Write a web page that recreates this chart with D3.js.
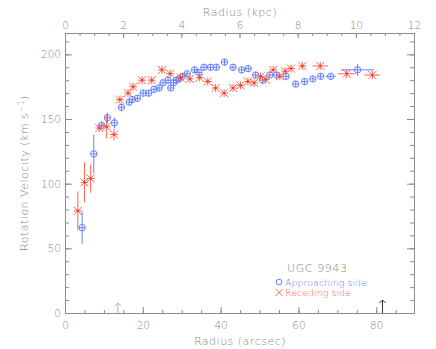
<!DOCTYPE html>
<html>
<head>
<meta charset="utf-8">
<script src="https://cdnjs.cloudflare.com/ajax/libs/d3/7.8.5/d3.min.js"></script>
<style>
  body { margin: 0; background: #fff; }
  svg text { font-family: "DejaVu Sans", sans-serif; font-weight: 200; fill: #858585; }
</style>
</head>
<body>
<svg id="chart"></svg>
<script>
// approaching side (blue circles)
var approachR = [4.4, 7.4, 9.4, 10.9, 12.7, 14.5, 16.5, 17.3, 18.6, 20.1, 21.5, 22.9, 24.2, 25.2, 26.5, 27.2, 27.9, 28.6, 29.3, 30.2,
                 31.4, 33.3, 34.4, 35.7, 37.4, 38.9, 41.0, 43.2, 45.4, 47.1, 49.0, 50.8, 52.6, 54.4, 56.8, 59.3, 61.6, 63.7, 65.7, 68.3, 75.2];
var approachV = [66, 123, 145, 151, 147, 159, 163, 165, 166, 170, 170, 173, 174, 178, 180, 174, 178, 180, 181, 183,
                 185, 188, 186, 190, 190, 190, 194, 190, 188, 189, 184, 180, 184, 184, 183, 177, 179, 181, 183, 183, 188];
var approachErrV = [12.5, 15, 3, 4, 4, 3, 2.5, 2.5, 2.5, 2.5, 2.5, 2.5, 2.5, 2.5, 2.5, 2.5, 2.5, 2.5, 2.5, 2.5,
                    2.5, 2.5, 2.5, 2.5, 2.5, 2.5, 2.5, 2.5, 2.5, 2.5, 2.5, 2.5, 2.5, 2.5, 2.5, 2.5, 2.5, 2.5, 2.5, 2.5, 4.5];
var approachErrR = [0.8, 0.8, 0.8, 0.8, 0.8, 0.8, 0.8, 0.8, 0.8, 0.8, 0.8, 0.8, 0.8, 0.8, 0.8, 0.8, 0.8, 0.8, 0.8, 0.8,
                    0.8, 0.8, 0.8, 0.8, 0.8, 0.8, 0.8, 0.8, 0.8, 0.8, 0.8, 0.8, 0.8, 0.8, 0.8, 0.8, 0.8, 0.8, 0.8, 1.3, 4.3];

// receding side (red crosses)
var recedeR = [3.3, 5.0, 6.6, 8.8, 10.7, 12.6, 14.1, 16.2, 17.5, 19.8, 22.3, 24.9, 27.0, 29.7, 32.1, 34.6, 36.7,
               38.7, 40.9, 43.2, 45.1, 47.0, 48.6, 50.3, 51.6, 53.5, 55.2, 56.6, 58.1, 61.0, 65.6, 72.4, 79.0];
var recedeV = [79, 101, 104, 143, 144, 138, 165, 170, 175, 180, 180, 188, 185, 182, 181, 182, 179,
               174, 170, 174, 176, 179, 178, 183, 180.5, 188, 183, 187, 189, 191, 191, 185, 184];
var recedeErrV = [15, 15.5, 11, 3, 9, 4.5, 3, 3, 3, 3, 3, 3, 3, 3, 3, 3, 3,
                  3, 3, 3, 3, 3, 3, 3, 3, 3, 3, 3, 3, 3, 3, 3, 3];
var recedeErrR = [1, 1, 1, 1, 1, 1, 1, 1, 1, 1, 1, 1, 1, 1, 1, 1, 1,
                  1, 1, 1, 1, 1, 1, 1, 1, 1, 1, 1, 1, 1, 2, 2.3, 2];

// axis ticks
var arcsecTicks = [0, 20, 40, 60, 80];
var kpcTicks = [0, 2, 4, 6, 8, 10, 12];
var velTicks = [0, 50, 100, 150, 200];

// arrows on the bottom axis (arcsec)
var arrowR = [13.6, 81.6];

var galaxyName = 'UGC 9943';
var legendLabels = ['Approaching side', 'Receding side'];

//variables
var width = 436, height = 349;
var margin = {top: 33, right: 22, bottom: 36, left: 65};
var blue = '#6680ff', red = '#ff6452', axisColor = '#8c8c8c';

var svg = d3.select('#chart')
    .attr('width', width)
    .attr('height', height);

var x = d3.scaleLinear().domain([0, 89.7]).range([margin.left, width - margin.right]);
var xKpc = d3.scaleLinear().domain([0, 12]).range([margin.left, width - margin.right]);
var y = d3.scaleLinear().domain([0, 216.5]).range([height - margin.bottom, margin.top]);

var approach = approachR.map((r, i) => ({r: r, v: approachV[i], ev: approachErrV[i], er: approachErrR[i]}));
var recede = recedeR.map((r, i) => ({r: r, v: recedeV[i], ev: recedeErrV[i], er: recedeErrR[i]}));

// axes
function styleAxis(g) {
    g.selectAll('path, line').attr('stroke', axisColor).attr('stroke-width', 1);
    g.selectAll('text').attr('font-size', '10.5px').style('fill', '#858585');
}

var xb = height - margin.bottom, yt = margin.top;

svg.append('g')
    .attr('transform', 'translate(0,' + xb + ')')
    .call(d3.axisBottom(x).tickValues(d3.range(0, 90, 5)).tickSize(-3).tickFormat(''))
    .call(styleAxis);
svg.append('g')
    .attr('transform', 'translate(0,' + xb + ')')
    .call(d3.axisBottom(x).tickValues(arcsecTicks).tickSize(-6).tickPadding(9).tickSizeOuter(0))
    .call(styleAxis);

svg.append('g')
    .attr('transform', 'translate(0,' + yt + ')')
    .call(d3.axisTop(xKpc).tickValues(d3.range(0, 12.01, 0.5)).tickSize(-3).tickFormat(''))
    .call(styleAxis);
svg.append('g')
    .attr('transform', 'translate(0,' + yt + ')')
    .call(d3.axisTop(xKpc).tickValues(kpcTicks).tickSize(-5).tickPadding(4).tickSizeOuter(0))
    .call(styleAxis);

svg.append('g')
    .attr('transform', 'translate(' + margin.left + ',0)')
    .call(d3.axisLeft(y).tickValues(d3.range(0, 216, 10)).tickSize(-4).tickFormat(''))
    .call(styleAxis);
svg.append('g')
    .attr('transform', 'translate(' + margin.left + ',0)')
    .call(d3.axisLeft(y).tickValues(velTicks).tickSize(-7).tickPadding(4).tickSizeOuter(0))
    .call(styleAxis);

svg.append('g')
    .attr('transform', 'translate(' + (width - margin.right) + ',0)')
    .call(d3.axisRight(y).tickValues(d3.range(0, 216, 10)).tickSize(-4).tickFormat(''))
    .call(styleAxis);
svg.append('g')
    .attr('transform', 'translate(' + (width - margin.right) + ',0)')
    .call(d3.axisRight(y).tickValues(velTicks).tickSize(-7).tickFormat('').tickSizeOuter(0))
    .call(styleAxis);

// axis titles
svg.append('text')
    .attr('x', 240).attr('y', 16)
    .attr('text-anchor', 'middle')
    .attr('font-size', '11px').attr('letter-spacing', '0.5px')
    .text('Radius (kpc)');

svg.append('text')
    .attr('x', 240).attr('y', 345)
    .attr('text-anchor', 'middle')
    .attr('font-size', '11px').attr('letter-spacing', '0.5px')
    .text('Radius (arcsec)');

var ytitle = svg.append('text')
    .attr('transform', 'translate(28,' + ((xb + yt) / 2) + ') rotate(-90)')
    .attr('text-anchor', 'middle')
    .attr('font-size', '11px').attr('letter-spacing', '0.5px');
ytitle.append('tspan').text('Rotation Velocity (km s');
ytitle.append('tspan').attr('dy', -4).attr('font-size', '8px').text('\u22121');
ytitle.append('tspan').attr('dy', 4).text(')');

// arrows
svg.selectAll('.arrow')
    .data(arrowR)
    .enter()
    .append('path')
    .attr('class', 'arrow')
    .attr('fill', 'none')
    .attr('stroke', (d, i) => i == 0 ? '#b4b4b4' : '#333')
    .attr('stroke-width', 1)
    .attr('d', (d, i) => {
        var px = x(d), top = xb - (i == 0 ? 10 : 13);
        return 'M' + px + ',' + xb + 'V' + top + 'M' + (px - 3) + ',' + (top + 3) + 'L' + px + ',' + top + 'L' + (px + 3) + ',' + (top + 3);
    });

// approaching side: error bars + circles
var ga = svg.append('g').attr('stroke', blue).attr('fill', 'none').attr('stroke-width', 1);

ga.selectAll('.ev')
    .data(approach)
    .enter()
    .append('line')
    .attr('x1', d => x(d.r)).attr('x2', d => x(d.r))
    .attr('y1', d => Math.min(y(d.v + d.ev), y(d.v) - 3.2))
    .attr('y2', d => Math.max(y(d.v - d.ev), y(d.v) + 3.2));

ga.selectAll('.er')
    .data(approach)
    .enter()
    .append('line')
    .attr('x1', d => x(d.r - d.er)).attr('x2', d => x(d.r + d.er))
    .attr('y1', d => y(d.v)).attr('y2', d => y(d.v));

ga.selectAll('circle')
    .data(approach)
    .enter()
    .append('circle')
    .attr('cx', d => x(d.r))
    .attr('cy', d => y(d.v))
    .attr('r', 3.2);

// receding side: error bars + crosses
var gr = svg.append('g').attr('stroke', red).attr('fill', 'none').attr('stroke-width', 1);

gr.selectAll('.ev')
    .data(recede)
    .enter()
    .append('line')
    .attr('x1', d => x(d.r)).attr('x2', d => x(d.r))
    .attr('y1', d => Math.min(y(d.v + d.ev), y(d.v) - 4))
    .attr('y2', d => Math.max(y(d.v - d.ev), y(d.v) + 4));

gr.selectAll('.er')
    .data(recede)
    .enter()
    .append('line')
    .attr('x1', d => x(d.r - d.er)).attr('x2', d => x(d.r + d.er))
    .attr('y1', d => y(d.v)).attr('y2', d => y(d.v));

gr.selectAll('.cross')
    .data(recede)
    .enter()
    .append('path')
    .attr('d', d => {
        var cx = x(d.r), cy = y(d.v), s = 4;
        return 'M' + (cx - s) + ',' + (cy - s) + 'L' + (cx + s) + ',' + (cy + s) +
               'M' + (cx - s) + ',' + (cy + s) + 'L' + (cx + s) + ',' + (cy - s);
    });

svg.append('g').selectAll('rect')
    .data(recede)
    .enter()
    .append('rect')
    .attr('x', d => x(d.r) - 1).attr('y', d => y(d.v) - 1)
    .attr('width', 2).attr('height', 2)
    .attr('fill', '#e63a28');

// legend
svg.append('text')
    .attr('x', 287).attr('y', 272)
    .attr('font-size', '11px').attr('letter-spacing', '0.6px')
    .text(galaxyName);

var legend = svg.append('g');
legend.append('circle')
    .attr('cx', 279).attr('cy', 282).attr('r', 2.8)
    .attr('fill', 'none').attr('stroke', blue);
legend.append('path')
    .attr('d', 'M275.5,289L282.5,296M275.5,296L282.5,289')
    .attr('fill', 'none').attr('stroke', red);
legend.selectAll('text')
    .data(legendLabels)
    .enter()
    .append('text')
    .attr('x', 285)
    .attr('y', (d, i) => 285.5 + i * 10.5)
    .attr('font-size', '9.5px')
    .style('fill', (d, i) => i == 0 ? blue : red)
    .text(d => d);
</script>
</body>
</html>
